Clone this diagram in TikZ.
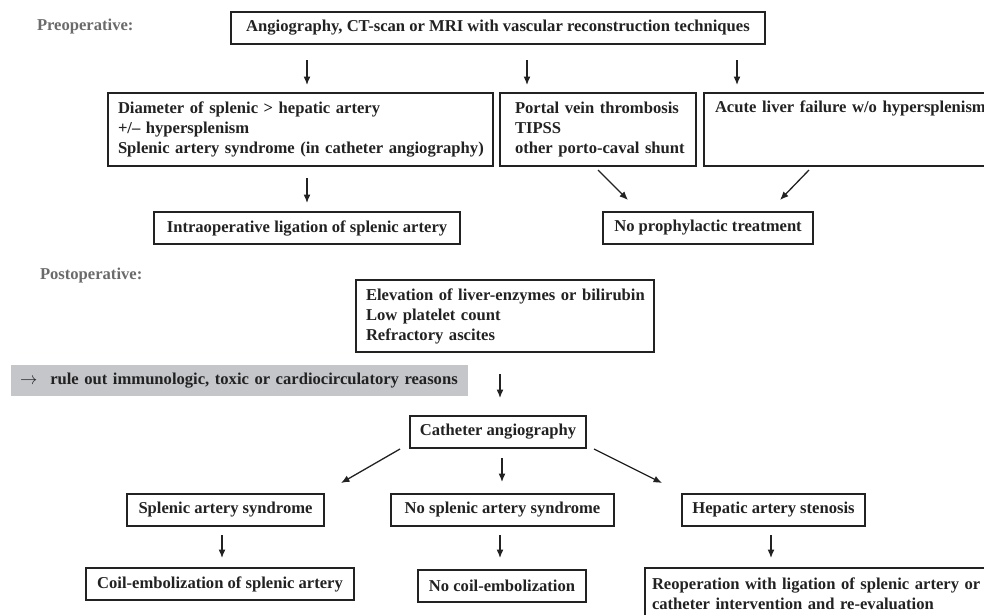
\documentclass[tikz,border=0pt]{standalone}
\usepackage{fontspec}
\setmainfont{Liberation Serif}
\usetikzlibrary{arrows.meta}
\definecolor{ink}{HTML}{222222}
\definecolor{band}{HTML}{C5C6CA}
\definecolor{labelgray}{HTML}{6B6B6B}
\newcommand{\oneline}[1]{\mbox{#1}}
\begin{document}
\begin{tikzpicture}[x=1pt,y=-1pt,
  every node/.style={font=\fontsize{16.6}{20}\selectfont\bfseries, text=ink, outer sep=0pt},
  box/.style={draw=ink, line width=1.3pt, anchor=north west, inner ysep=0pt},
  lbox/.style={box, align=left, inner xsep=8pt},
  cbox/.style={box, align=center, inner xsep=2pt},
  phase/.style={anchor=west, text=labelgray, inner sep=0pt},
  arr/.style={draw=ink, line width=1.3pt, -{Latex[length=8.5pt,width=7pt]}}]
\useasboundingbox (0,0) rectangle (984,614);
\clip (0,0) rectangle (984,614);

% phase labels
\node[phase] (pre) at (37,27) {Preoperative:};
\node[phase] (post) at (40,275) {Postoperative:};

% preoperative part
\node[cbox, minimum width=534pt, minimum height=32pt] (top) at (231,12)
  {Angiography, CT-scan or MRI with vascular reconstruction techniques};
\node[lbox, minimum width=385pt, minimum height=73pt, inner xsep=10pt, text width=365pt] (L1) at (108,93)
  {\oneline{Diameter of splenic > hepatic artery}\\ \oneline{+/-- hypersplenism}\\ \oneline{Splenic artery syndrome (in catheter angiography)}};
\node[lbox, minimum width=196pt, minimum height=73pt, inner xsep=15pt, text width=166pt] (M) at (500,93)
  {\oneline{Portal vein thrombosis}\\ \oneline{TIPSS}\\ \oneline{other porto-caval shunt}};
\node[lbox, minimum width=296pt, minimum height=73pt, inner xsep=11pt, text width=274pt] (R) at (704,93)
  {\oneline{Acute liver failure w/o hypersplenism}\\ \strut\\ \strut};
\node[cbox, minimum width=306pt, minimum height=32pt] (intra) at (154,212)
  {Intraoperative ligation of splenic artery};
\node[cbox, minimum width=210pt, minimum height=32pt] (noproph) at (603,212)
  {No prophylactic treatment};

% postoperative part
\node[lbox, minimum width=298pt, minimum height=72pt, inner xsep=10pt, text width=278pt] (elev) at (356,280)
  {\oneline{Elevation of liver-enzymes or bilirubin}\\ \oneline{Low platelet count}\\ \oneline{Refractory ascites}};
\node[anchor=north west, fill=band, minimum width=457pt, minimum height=31pt, inner xsep=9pt, inner ysep=0pt, text width=439pt, align=left] (rule) at (11,365)
  {\oneline{{\mdseries$\rightarrow$}\hspace{13pt}rule out immunologic, toxic or cardiocirculatory reasons}};
\node[cbox, minimum width=176pt, minimum height=32pt] (cath) at (410,416)
  {Catheter angiography};
\node[cbox, minimum width=197pt, minimum height=32pt] (splenic) at (127,494)
  {Splenic artery syndrome};
\node[cbox, minimum width=223pt, minimum height=32pt] (nosplenic) at (391,494)
  {No splenic artery syndrome};
\node[cbox, minimum width=183pt, minimum height=32pt] (hepatic) at (682,494)
  {Hepatic artery stenosis};
\node[cbox, minimum width=268pt, minimum height=32pt] (coil) at (86,568)
  {Coil-embolization of splenic artery};
\node[cbox, minimum width=168pt, minimum height=32pt] (nocoil) at (418,570)
  {No coil-embolization};
\node[lbox, minimum width=355pt, minimum height=52pt, inner xsep=7pt, text width=341pt] (reop) at (645,568)
  {\oneline{Reoperation with ligation of splenic artery or}\\ \oneline{catheter intervention and re-evaluation}};
% the box continues below the picture's edge, as in the reference
\draw[draw=ink, line width=1.3pt] (reop.south west) -- ++(0,12);

% connectors
\draw[arr] ([shift={(-191,16)}]top.south) -- ([shift={(6.5,-8)}]L1.north);
\draw[arr] ([shift={(29,16)}]top.south) -- ([shift={(-71,-8)}]M.north);
\draw[arr] ([shift={(239,16)}]top.south) -- ([shift={(-115,-8)}]R.north);
\draw[arr] ([shift={(6.5,12)}]L1.south) -- ([shift={(0,-9)}]intra.north);
\draw[arr] ([shift={(0,4)}]M.south) -- ([shift={(-80,-12)}]noproph.north);
\draw[arr] ([shift={(-43,4)}]R.south) -- ([shift={(72,-12)}]noproph.north);
\draw[arr] ([shift={(-5,22)}]elev.south) -- ([shift={(2,-18)}]cath.north);
\draw[arr] ([shift={(-98,1)}]cath.south) -- ([shift={(115.5,-11)}]splenic.north);
\draw[arr] ([shift={(4,10)}]cath.south) -- ([shift={(-0.5,-12)}]nosplenic.north);
\draw[arr] ([shift={(96,1)}]cath.south) -- ([shift={(-111.5,-11)}]hepatic.north);
\draw[arr] ([shift={(-3.5,9)}]splenic.south) -- ([shift={(2,-10)}]coil.north);
\draw[arr] ([shift={(-2.5,9)}]nosplenic.south) -- ([shift={(-2,-12)}]nocoil.north);
\draw[arr] ([shift={(-2.5,9)}]hepatic.south) -- ([shift={(-51.5,-10)}]reop.north);
\end{tikzpicture}
\end{document}
